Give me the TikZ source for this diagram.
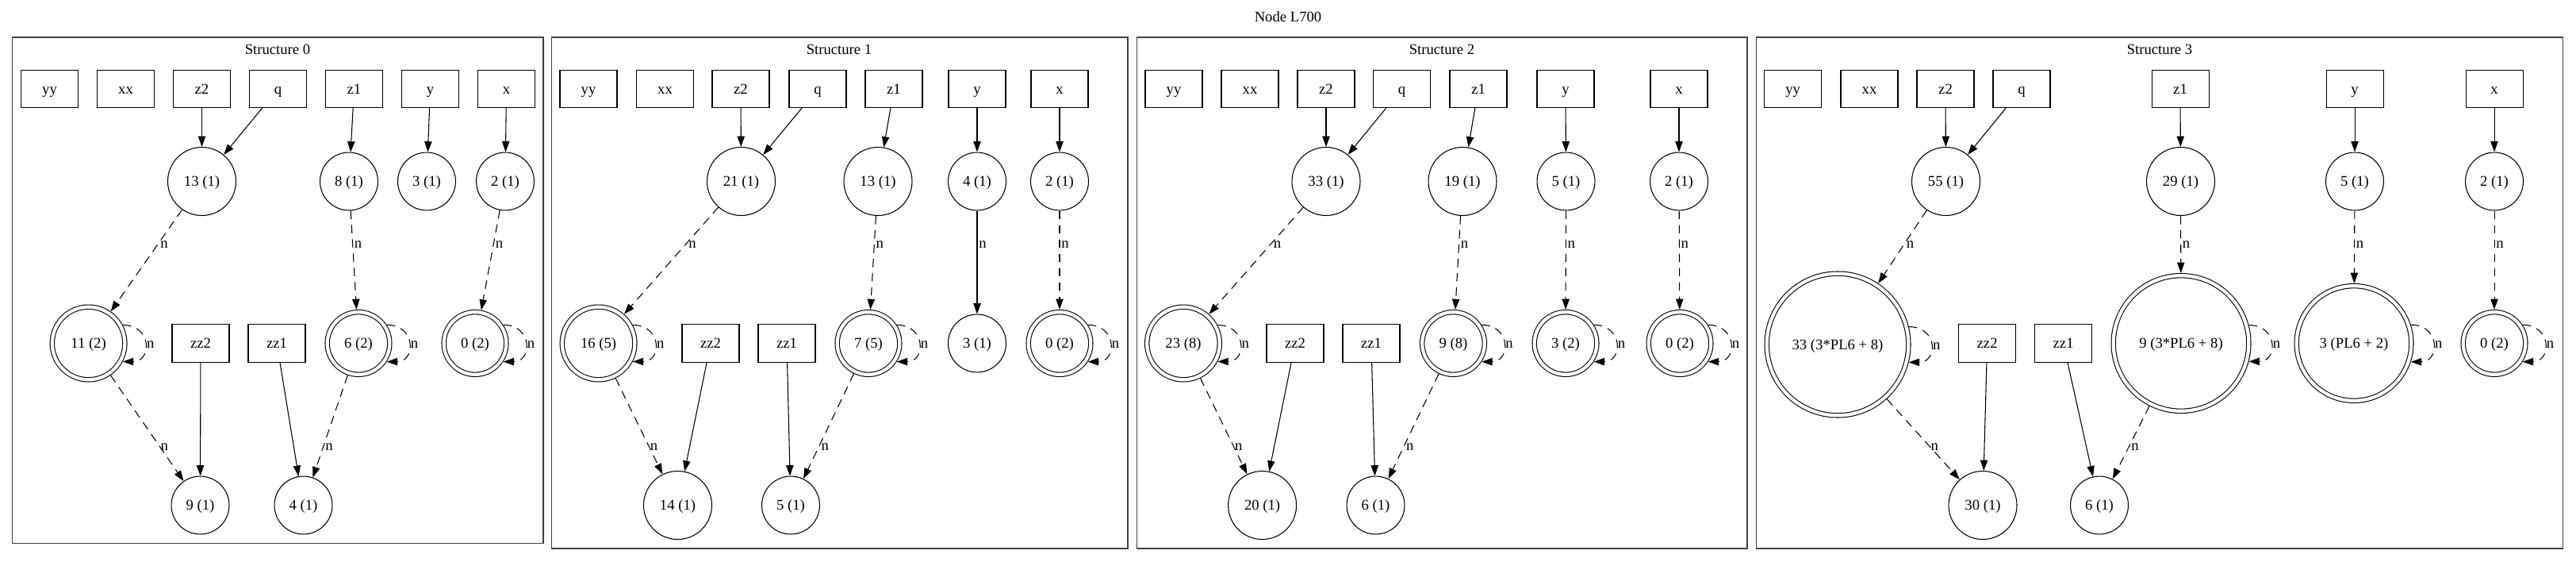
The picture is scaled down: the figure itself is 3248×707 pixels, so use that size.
\documentclass[tikz,border=0pt]{standalone}
\usepackage{fontspec}
\setmainfont{Liberation Serif}
\usetikzlibrary{arrows.meta,calc}
\newcommand\gvloop[2]{\draw[de] (#1.#2) .. controls +(37,0) and +(37,0) .. node[lab,pos=0.5] (#1l) {n} (#1.-#2);}
\begin{document}
\begin{tikzpicture}[x=0.75pt,y=-0.75pt,
  every node/.style={font=\fontsize{14pt}{16pt}\selectfont,text height=10.5pt,text depth=1.5pt},
  box/.style={draw,rectangle,line width=0.8pt,minimum width=54pt,minimum height=35.5pt,inner sep=0pt},
  sc/.style={draw,circle,line width=0.8pt,inner sep=0pt,minimum size=54.7pt},
  mc/.style={draw,circle,line width=0.8pt,inner sep=0pt,minimum size=64.5pt},
  dc/.style={draw,circle,line width=0.8pt,double,double distance=3.2pt,inner sep=0pt,outer sep=2.4pt,minimum size=#1},
  e/.style={line width=0.8pt,-{Triangle[length=10pt,width=7pt]}},
  de/.style={e,dash pattern=on 8pt off 5.5pt},
  lab/.style={anchor=west,inner sep=1.5pt},
  clus/.style={draw=black!75,line width=1pt}]
\fill[white] (0,0) rectangle (3248,707);
\useasboundingbox (0,0) rectangle (3248,707);
\node (title) at (1624,21) {Node L700};

% ---------------- Structure 0
\draw[clus] (15.6,47) rectangle (685,684.3);
\node (s0) at (350,62) {Structure 0};
\node[box] (c0yy) at (62.5,112) {yy};
\node[box] (c0xx) at (158.5,112) {xx};
\node[box] (c0z2) at (254.5,112) {z2};
\node[box] (c0q) at (350.5,112) {q};
\node[box] (c0z1) at (446.5,112) {z1};
\node[box] (c0y) at (542.5,112) {y};
\node[box] (c0x) at (638.5,112) {x};
\node[mc] (c0a) at (254.5,228.5) {13 (1)};
\node[sc] (c0b) at (440,228.5) {8 (1)};
\node[sc] (c0c) at (538,228.5) {3 (1)};
\node[sc] (c0d) at (637,228.5) {2 (1)};
\node[dc=68.7pt] (c0e) at (111.6,432.5) {11 (2)};
\node[box] (c0zz2) at (253,432.5) {zz2};
\node[box] (c0zz1) at (349,432.5) {zz1};
\node[dc=59pt] (c0f) at (452,432.5) {6 (2)};
\node[dc=59pt] (c0g) at (599,432.5) {0 (2)};
\node[sc] (c0h) at (252.5,636.5) {9 (1)};
\node[sc] (c0i) at (382.5,636.5) {4 (1)};
\draw[e] (c0z2) -- (c0a);
\draw[e] (c0q) -- (c0a);
\draw[e] (c0z1) -- (c0b);
\draw[e] (c0y) -- (c0c);
\draw[e] (c0x) -- (c0d);
\draw[de] (c0a) -- (c0e); \node[lab] (c0l1) at ($(c0a)!0.38!(c0e)$) {n};
\draw[de] (c0b) -- (c0f); \node[lab] (c0l2) at ($(c0b)!0.38!(c0f)$) {n};
\draw[de] (c0d) -- (c0g); \node[lab] (c0l3) at ($(c0d)!0.38!(c0g)$) {n};
\gvloop{c0e}{28}
\gvloop{c0f}{33}
\gvloop{c0g}{33}
\draw[de] (c0e) -- (c0h); \node[lab] (c0l4) at ($(c0e)!0.63!(c0h)$) {n};
\draw[e] (c0zz2) -- (c0h);
\draw[e] (c0zz1) -- (c0i);
\draw[de] (c0f) -- (c0i); \node[lab] (c0l5) at ($(c0f)!0.63!(c0i)$) {n};

% ---------------- Structure 1
\draw[clus] (695.7,47) rectangle (1422,691);
\node (s1) at (1058,62) {Structure 1};
\node[box] (c1yy) at (742,112) {yy};
\node[box] (c1xx) at (838.5,112) {xx};
\node[box] (c1z2) at (934,112) {z2};
\node[box] (c1q) at (1031,112) {q};
\node[box] (c1z1) at (1127,112) {z1};
\node[box] (c1y) at (1232,112) {y};
\node[box] (c1x) at (1336,112) {x};
\node[mc] (c1a) at (934.5,228.5) {21 (1)};
\node[mc] (c1b) at (1107,228.5) {13 (1)};
\node[sc] (c1c) at (1232,228.5) {4 (1)};
\node[sc] (c1d) at (1336,228.5) {2 (1)};
\node[dc=68.7pt] (c1e) at (754.6,432.5) {16 (5)};
\node[box] (c1zz2) at (896,432.5) {zz2};
\node[box] (c1zz1) at (992,432.5) {zz1};
\node[dc=59pt] (c1f) at (1095,432.5) {7 (5)};
\node[sc] (c1g) at (1232,432.5) {3 (1)};
\node[dc=59pt] (c1k) at (1336,432.5) {0 (2)};
\node[mc] (c1h) at (854.5,636.5) {14 (1)};
\node[sc] (c1i) at (997,636.5) {5 (1)};
\draw[e] (c1z2) -- (c1a);
\draw[e] (c1q) -- (c1a);
\draw[e] (c1z1) -- (c1b);
\draw[e] (c1y) -- (c1c);
\draw[e] (c1x) -- (c1d);
\draw[de] (c1a) -- (c1e); \node[lab] (c1l1) at ($(c1a)!0.38!(c1e)$) {n};
\draw[de] (c1b) -- (c1f); \node[lab] (c1l2) at ($(c1b)!0.38!(c1f)$) {n};
\draw[e] (c1c) -- (c1g); \node[lab] (c1l3) at ($(c1c)!0.38!(c1g)$) {n};
\draw[de] (c1d) -- (c1k); \node[lab] (c1l4) at ($(c1d)!0.38!(c1k)$) {n};
\gvloop{c1e}{28}
\gvloop{c1f}{33}
\gvloop{c1k}{33}
\draw[de] (c1e) -- (c1h); \node[lab] (c1l5) at ($(c1e)!0.63!(c1h)$) {n};
\draw[e] (c1zz2) -- (c1h);
\draw[e] (c1zz1) -- (c1i);
\draw[de] (c1f) -- (c1i); \node[lab] (c1l6) at ($(c1f)!0.63!(c1i)$) {n};

% ---------------- Structure 2
\draw[clus] (1433.5,47) rectangle (2203,691);
\node (s2) at (1818,62) {Structure 2};
\node[box] (c2yy) at (1480,112) {yy};
\node[box] (c2xx) at (1576,112) {xx};
\node[box] (c2z2) at (1672,112) {z2};
\node[box] (c2q) at (1767.5,112) {q};
\node[box] (c2z1) at (1864,112) {z1};
\node[box] (c2y) at (1974,112) {y};
\node[box] (c2x) at (2117,112) {x};
\node[mc] (c2a) at (1672,228.5) {33 (1)};
\node[mc] (c2b) at (1844,228.5) {19 (1)};
\node[sc] (c2c) at (1974.5,228.5) {5 (1)};
\node[sc] (c2d) at (2117,228.5) {2 (1)};
\node[dc=68.7pt] (c2e) at (1492,432.5) {23 (8)};
\node[box] (c2zz2) at (1633,432.5) {zz2};
\node[box] (c2zz1) at (1729,432.5) {zz1};
\node[dc=59pt] (c2f) at (1832.5,432.5) {9 (8)};
\node[dc=59pt] (c2g) at (1974,432.5) {3 (2)};
\node[dc=59pt] (c2k) at (2118,432.5) {0 (2)};
\node[mc] (c2h) at (1591.6,636.5) {20 (1)};
\node[sc] (c2i) at (1734.5,636.5) {6 (1)};
\draw[e] (c2z2) -- (c2a);
\draw[e] (c2q) -- (c2a);
\draw[e] (c2z1) -- (c2b);
\draw[e] (c2y) -- (c2c);
\draw[e] (c2x) -- (c2d);
\draw[de] (c2a) -- (c2e); \node[lab] (c2l1) at ($(c2a)!0.38!(c2e)$) {n};
\draw[de] (c2b) -- (c2f); \node[lab] (c2l2) at ($(c2b)!0.38!(c2f)$) {n};
\draw[de] (c2c) -- (c2g); \node[lab] (c2l3) at ($(c2c)!0.38!(c2g)$) {n};
\draw[de] (c2d) -- (c2k); \node[lab] (c2l4) at ($(c2d)!0.38!(c2k)$) {n};
\gvloop{c2e}{28}
\gvloop{c2f}{33}
\gvloop{c2g}{33}
\gvloop{c2k}{33}
\draw[de] (c2e) -- (c2h); \node[lab] (c2l5) at ($(c2e)!0.63!(c2h)$) {n};
\draw[e] (c2zz2) -- (c2h);
\draw[e] (c2zz1) -- (c2i);
\draw[de] (c2f) -- (c2i); \node[lab] (c2l6) at ($(c2f)!0.63!(c2i)$) {n};

% ---------------- Structure 3
\draw[clus] (2214.6,47) rectangle (3231.5,691);
\node (s3) at (2723,62) {Structure 3};
\node[box] (c3yy) at (2260.6,112) {yy};
\node[box] (c3xx) at (2357,112) {xx};
\node[box] (c3z2) at (2453,112) {z2};
\node[box] (c3q) at (2549,112) {q};
\node[box] (c3z1) at (2749,112) {z1};
\node[box] (c3y) at (2969,112) {y};
\node[box] (c3x) at (3145,112) {x};
\node[mc] (c3a) at (2453.5,228.5) {55 (1)};
\node[mc] (c3b) at (2749.5,228.5) {29 (1)};
\node[sc] (c3c) at (2969,228.5) {5 (1)};
\node[sc] (c3d) at (3145,228.5) {2 (1)};
\node[dc=134pt] (c3e) at (2317,434) {33 (3*PL6 + 8)};
\node[box] (c3zz2) at (2505.6,432.5) {zz2};
\node[box] (c3zz1) at (2601.6,432.5) {zz1};
\node[dc=128pt] (c3f) at (2750,432.5) {9 (3*PL6 + 8)};
\node[dc=108.5pt] (c3g) at (2968,432.5) {3 (PL6 + 2)};
\node[dc=59pt] (c3k) at (3145,432.5) {0 (2)};
\node[mc] (c3h) at (2500,636.5) {30 (1)};
\node[sc] (c3i) at (2647,636.5) {6 (1)};
\draw[e] (c3z2) -- (c3a);
\draw[e] (c3q) -- (c3a);
\draw[e] (c3z1) -- (c3b);
\draw[e] (c3y) -- (c3c);
\draw[e] (c3x) -- (c3d);
\draw[de] (c3a) -- (c3e); \node[lab] (c3l1) at ($(c3a)!0.38!(c3e)$) {n};
\draw[de] (c3b) -- (c3f); \node[lab] (c3l2) at ($(c3b)!0.38!(c3f)$) {n};
\draw[de] (c3c) -- (c3g); \node[lab] (c3l3) at ($(c3c)!0.38!(c3g)$) {n};
\draw[de] (c3d) -- (c3k); \node[lab] (c3l4) at ($(c3d)!0.38!(c3k)$) {n};
\gvloop{c3e}{14}
\gvloop{c3f}{15}
\gvloop{c3g}{18}
\gvloop{c3k}{33}
\draw[de] (c3e) -- (c3h); \node[lab] (c3l5) at ($(c3e)!0.63!(c3h)$) {n};
\draw[e] (c3zz2) -- (c3h);
\draw[e] (c3zz1) -- (c3i);
\draw[de] (c3f) -- (c3i); \node[lab] (c3l6) at ($(c3f)!0.63!(c3i)$) {n};
\end{tikzpicture}
\end{document}
